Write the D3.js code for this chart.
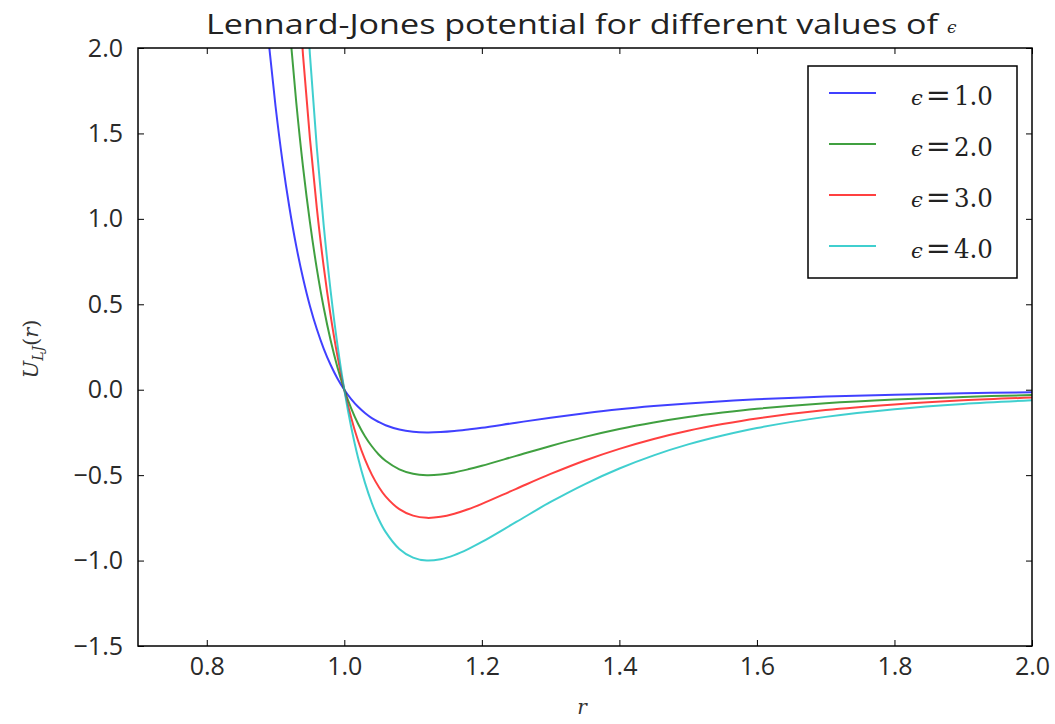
<!DOCTYPE html>
<html>
<head>
<meta charset="utf-8">
<script src="https://cdn.jsdelivr.net/npm/d3@7"></script>
<style>
  body { margin: 0; background: #fff; }
  svg { display: block; }
</style>
</head>
<body>
<div id="chart"></div>
<script>
const width = 1055;
const height = 724;

// r values (sampled along the curves)
const rValues = [0.88, 0.89, 0.90, 0.91, 0.92, 0.93, 0.94, 0.95, 0.96, 0.97, 0.98, 0.99,
  1.00, 1.01, 1.02, 1.03, 1.04, 1.05, 1.06, 1.08, 1.10, 1.12, 1.14, 1.16, 1.18, 1.20,
  1.25, 1.30, 1.35, 1.40, 1.45, 1.50, 1.55, 1.60, 1.70, 1.80, 1.90, 2.00];

const u1 = [2.484, 2.037, 1.659, 1.340, 1.071, 0.843, 0.652, 0.490, 0.355, 0.241, 0.146, 0.066,
  0, -0.055, -0.100, -0.136, -0.166, -0.189, -0.208, -0.233, -0.246, -0.250, -0.248, -0.242, -0.233, -0.223,
  -0.193, -0.164, -0.138, -0.115, -0.096, -0.080, -0.067, -0.056, -0.040, -0.029, -0.021, -0.015];
const u2 = [4.968, 4.073, 3.318, 2.680, 2.141, 1.687, 1.303, 0.981, 0.709, 0.481, 0.291, 0.132,
  0, -0.109, -0.199, -0.272, -0.331, -0.379, -0.416, -0.466, -0.492, -0.500, -0.496, -0.484, -0.466, -0.445,
  -0.387, -0.329, -0.276, -0.230, -0.192, -0.160, -0.134, -0.112, -0.079, -0.057, -0.042, -0.031];
const u3 = [7.452, 6.110, 4.977, 4.020, 3.212, 2.530, 1.955, 1.471, 1.064, 0.722, 0.437, 0.198,
  0, -0.164, -0.299, -0.408, -0.497, -0.568, -0.624, -0.699, -0.737, -0.750, -0.744, -0.726, -0.700, -0.668,
  -0.580, -0.493, -0.414, -0.346, -0.288, -0.240, -0.201, -0.168, -0.119, -0.086, -0.062, -0.046];
const u4 = [9.936, 8.146, 6.636, 5.360, 4.283, 3.373, 2.607, 1.961, 1.418, 0.963, 0.582, 0.264,
  0, -0.218, -0.398, -0.544, -0.663, -0.758, -0.832, -0.932, -0.983, -1.000, -0.992, -0.968, -0.933, -0.891,
  -0.774, -0.657, -0.552, -0.461, -0.384, -0.320, -0.268, -0.224, -0.159, -0.114, -0.083, -0.062];

const epsLabels = ["1.0", "2.0", "3.0", "4.0"];
const seriesColors = ["#0000ff", "#008000", "#ff0000", "#00bfbf"];
const xTicks = [0.8, 1.0, 1.2, 1.4, 1.6, 1.8, 2.0];
const yTicks = [-1.5, -1.0, -0.5, 0.0, 0.5, 1.0, 1.5, 2.0];

const series = [u1, u2, u3, u4].map((u, i) => ({
  label: epsLabels[i],
  color: seriesColors[i],
  points: rValues.map((r, j) => [r, u[j]])
}));

const margin = { top: 48, right: 23, bottom: 78, left: 138 };
const plotW = width - margin.left - margin.right;
const plotH = height - margin.top - margin.bottom;

const svg = d3.select("#chart")
  .append("svg")
  .attr("width", width)
  .attr("height", height);

const x = d3.scaleLinear().domain([0.7, 2.0]).range([0, plotW]);
const y = d3.scaleLinear().domain([-1.5, 2.0]).range([plotH, 0]);

const g = svg.append("g").attr("transform", `translate(${margin.left},${margin.top})`);

g.append("clipPath").attr("id", "clip")
  .append("rect").attr("width", plotW).attr("height", plotH);

// lignes
const line = d3.line()
  .x(d => x(d[0]))
  .y(d => y(d[1]))
  .curve(d3.curveCatmullRom.alpha(0.5));

g.append("g").attr("clip-path", "url(#clip)")
  .selectAll("path")
  .data(series)
  .enter()
  .append("path")
  .attr("d", d => line(d.points))
  .attr("fill", "none")
  .attr("stroke", d => d.color)
  .attr("stroke-opacity", 0.75)
  .attr("stroke-width", 2);

// axes (ticks vers l'intérieur, sur les 4 côtés)
const tickFont = "'Open Sans', sans-serif";
function styleAxis(sel) {
  sel.select(".domain").remove();
  sel.selectAll(".tick line").attr("stroke", "#000").attr("stroke-width", 1);
  sel.selectAll(".tick text").attr("font-family", tickFont).attr("font-size", "25px").attr("fill", "#2a2a2a");
}

g.append("g").attr("transform", `translate(0,${plotH})`)
  .call(d3.axisBottom(x).tickValues(xTicks).tickFormat(d3.format(".1f")).tickSizeInner(-6).tickPadding(11))
  .call(styleAxis);
g.append("g")
  .call(d3.axisTop(x).tickValues(xTicks).tickSizeInner(-6).tickFormat(""))
  .call(styleAxis);
g.append("g")
  .call(d3.axisLeft(y).tickValues(yTicks).tickFormat(d => d3.format(".1f")(d).replace("-", "\u2212")).tickSizeInner(-6).tickPadding(15))
  .call(styleAxis);
g.append("g").attr("transform", `translate(${plotW},0)`)
  .call(d3.axisRight(y).tickValues(yTicks).tickSizeInner(-6).tickFormat(""))
  .call(styleAxis);

g.append("rect")
  .attr("width", plotW).attr("height", plotH)
  .attr("fill", "none").attr("stroke", "#000").attr("stroke-width", 1.5);

// titre et étiquettes
svg.append("text")
  .attr("x", 206).attr("y", 34)
  .attr("textLength", 732)
  .attr("lengthAdjust", "spacingAndGlyphs")
  .attr("font-family", "'Open Sans', sans-serif")
  .attr("font-size", "27px")
  .attr("fill", "#222")
  .text("Lennard-Jones potential for different values of");
svg.append("text")
  .attr("x", 947).attr("y", 33)
  .attr("font-family", "'DejaVu Serif', serif")
  .attr("font-style", "italic")
  .attr("font-size", "17px")
  .attr("fill", "#222")
  .text("ϵ");

svg.append("text")
  .attr("x", margin.left + plotW / 2 - 3).attr("y", 714)
  .attr("text-anchor", "middle")
  .attr("font-family", "'DejaVu Serif', serif")
  .attr("font-style", "italic")
  .attr("font-size", "20px")
  .attr("fill", "#333")
  .text("r");

const yl = svg.append("text")
  .attr("transform", `translate(38,${margin.top + plotH / 2 + 2}) rotate(-90)`)
  .attr("text-anchor", "middle")
  .attr("font-family", "'DejaVu Serif', serif")
  .attr("font-style", "italic")
  .attr("font-size", "21px")
  .attr("fill", "#333");
yl.append("tspan").text("U");
yl.append("tspan").attr("font-size", "14px").attr("dy", 5).text("LJ");
yl.append("tspan").attr("dy", -5).attr("font-style", "normal").text("(");
yl.append("tspan").text("r");
yl.append("tspan").attr("font-style", "normal").text(")");

// légende
const legend = svg.append("g").attr("transform", "translate(808,66)");
legend.append("rect")
  .attr("width", 209).attr("height", 212)
  .attr("fill", "#fff").attr("stroke", "#000").attr("stroke-width", 1.5);

const items = legend.selectAll("g.item")
  .data(series)
  .enter()
  .append("g")
  .attr("class", "item")
  .attr("transform", (d, i) => `translate(0,${27 + i * 51})`);

items.append("line")
  .attr("x1", 21).attr("x2", 68)
  .attr("stroke", d => d.color)
  .attr("stroke-opacity", 0.75)
  .attr("stroke-width", 2);

const lt = items.append("text")
  .attr("x", 103).attr("y", 12)
  .attr("font-family", "'DejaVu Serif', serif")
  .attr("font-size", "26px")
  .attr("fill", "#222");
lt.append("tspan").attr("font-style", "italic").attr("font-size", "21px").text("ϵ");
lt.append("tspan").attr("dx", 3).attr("font-size", "30px").text("=");
lt.append("tspan").attr("dx", 3).attr("textLength", 39).attr("lengthAdjust", "spacingAndGlyphs").text(d => d.label);
</script>
</body>
</html>
